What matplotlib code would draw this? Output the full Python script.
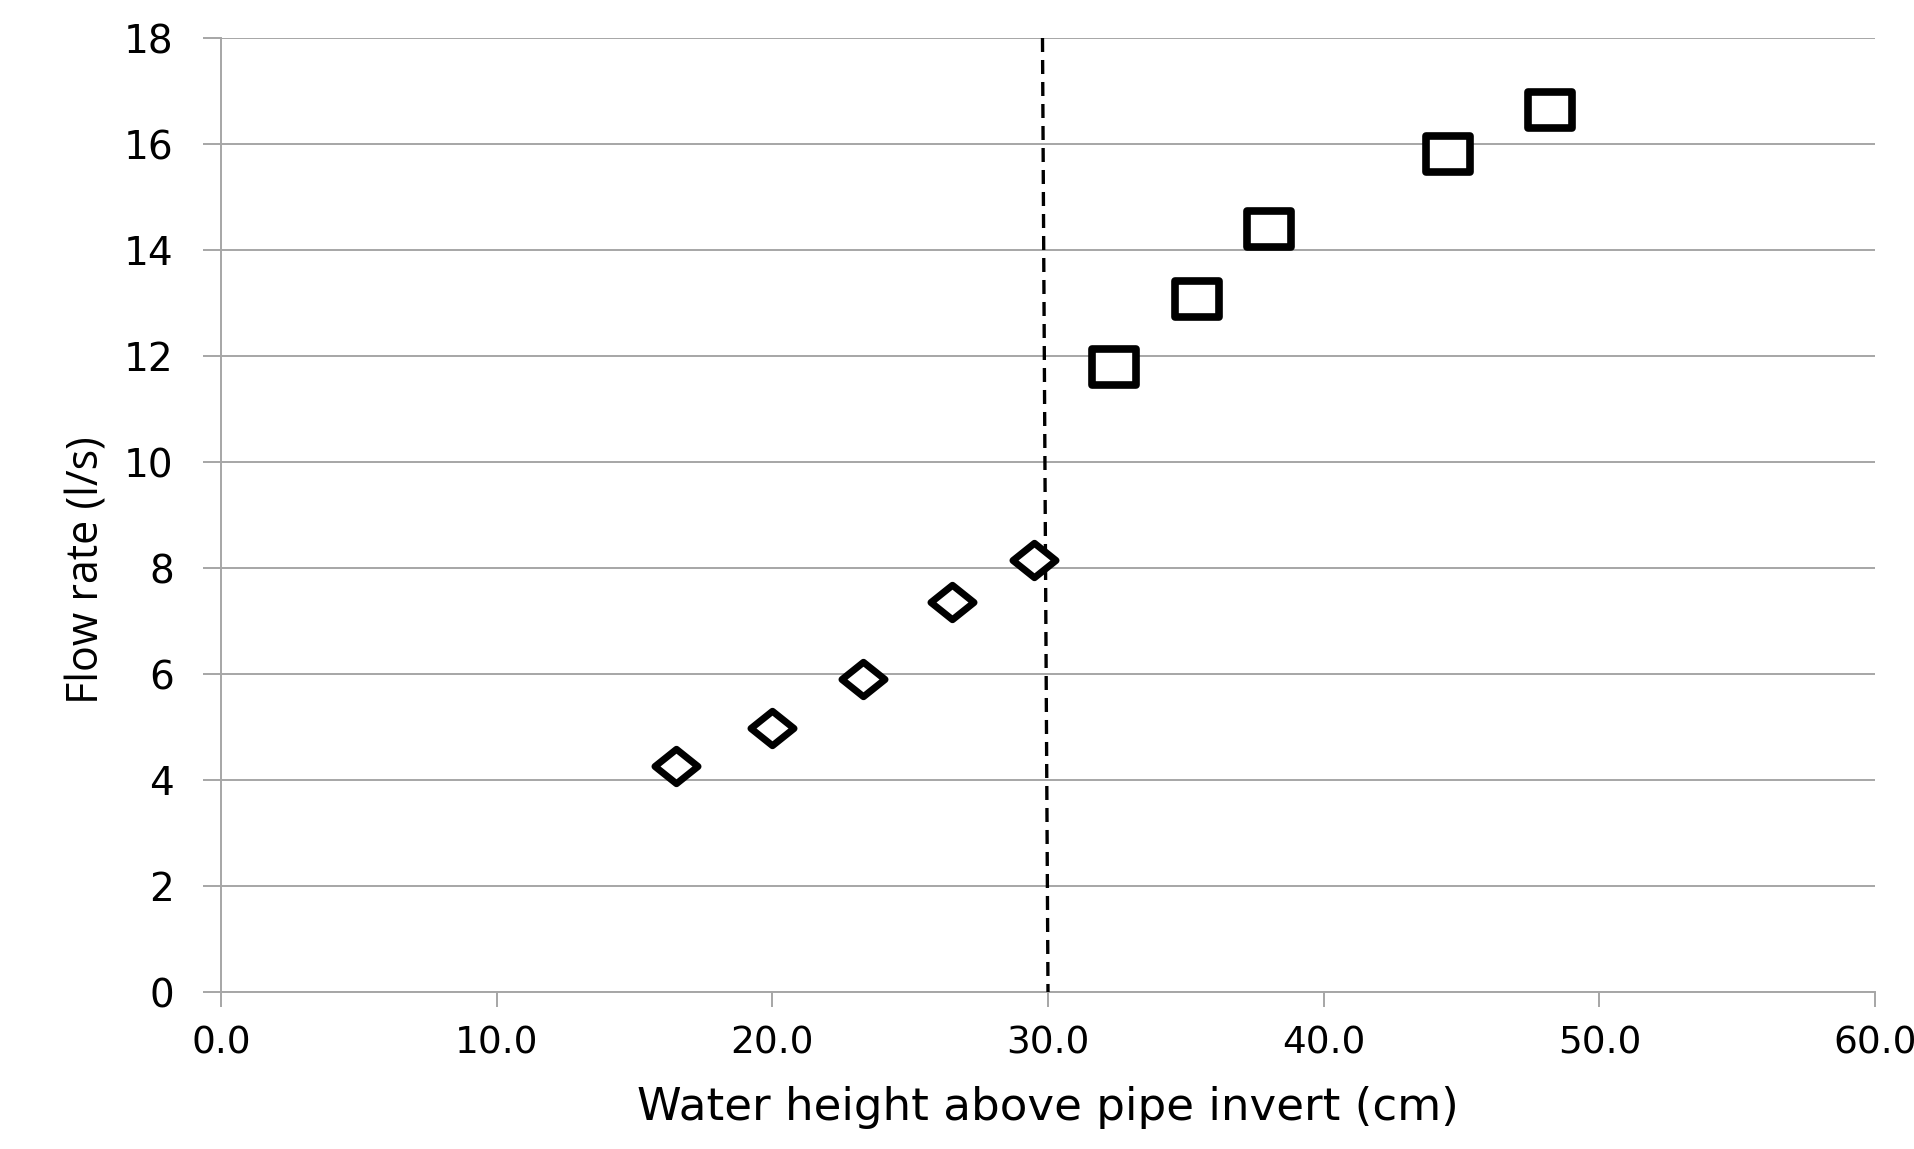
import numpy as np
import matplotlib
matplotlib.use('Agg')
import matplotlib.pyplot as plt
from matplotlib.path import Path

# partially filled pipe (diamonds) and surcharged pipe (squares)
h_partial = [16.5, 20.0, 23.3, 26.5, 29.5]
q_partial = [4.26, 4.98, 5.90, 7.35, 8.16]
h_full = [32.4, 35.4, 38.0, 44.5, 48.2]
q_full = [11.80, 13.07, 14.40, 15.81, 16.64]
# pipe crown line
crown_x = [29.8, 30.0]
crown_y = [18, 0]

xticks = [0, 10, 20, 30, 40, 50, 60]
yticks = [0, 2, 4, 6, 8, 10, 12, 14, 16, 18]

plt.rcParams['font.family'] = ['DejaVu Sans']

fig = plt.figure(figsize=(19.15, 11.49), dpi=100)
ax = fig.add_axes([221/1915, 1 - 992/1149, (1875-221)/1915, (992-38)/1149])

diamond = Path([(-1, 0), (0, 0.8), (1, 0), (0, -0.8), (-1, 0)],
               [Path.MOVETO, Path.LINETO, Path.LINETO, Path.LINETO, Path.CLOSEPOLY])
square = Path([(-1, -0.82), (1, -0.82), (1, 0.82), (-1, 0.82), (-1, -0.82)],
              [Path.MOVETO, Path.LINETO, Path.LINETO, Path.LINETO, Path.CLOSEPOLY])

ax.plot(crown_x, crown_y, color='black', lw=2.4, ls=(0, (4.2, 2.4)), zorder=3)
ax.plot(h_partial, q_partial, ls='none', marker=diamond, ms=31, mfc='white',
        mec='black', mew=5, zorder=4)
ax.plot(h_full, q_full, ls='none', marker=square, ms=31, mfc='white',
        mec='black', mew=5.5, zorder=4)

ax.set_xlim(0, 60)
ax.set_ylim(0, 18)
ax.set_xticks(xticks)
ax.set_xticklabels(['%.1f' % v for v in xticks])
ax.set_yticks(yticks)
ax.grid(axis='y', color='#a6a6a6', lw=1.4)
ax.set_axisbelow(True)
for s in ['top', 'right']:
    ax.spines[s].set_visible(False)
for s in ['left', 'bottom']:
    ax.spines[s].set_color('#a6a6a6')
    ax.spines[s].set_linewidth(1.4)
ax.tick_params(axis='x', direction='out', length=11, width=1.4, color='#a6a6a6',
               labelsize=27, pad=13)
ax.tick_params(axis='y', direction='out', length=13, width=1.4, color='#a6a6a6',
               labelsize=28, pad=21)
ax.set_xlabel('Water height above pipe invert (cm)', fontsize=32.5, labelpad=18)
ax.set_ylabel('Flow rate (l/s)', fontsize=31, family='Open Sans')
ax.yaxis.set_label_coords(-0.0675, 0.442)

fig.savefig('out.png', dpi=100)
